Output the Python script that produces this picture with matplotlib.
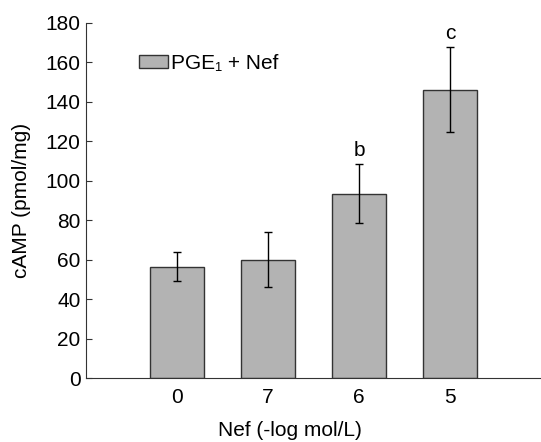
import matplotlib
matplotlib.use("Agg")
import matplotlib.pyplot as plt
import numpy as np

# Data
categories = ["0", "7", "6", "5"]
cAMP = [56.5, 60.0, 93.5, 146.0]
sem = [7.3, 13.8, 14.7, 21.4]
letters = ["", "", "b", "c"]

plt.rcParams["font.family"] = ["Liberation Sans", "DejaVu Sans"]

fig = plt.figure(figsize=(5.41, 4.42), dpi=100)
ax = fig.add_axes([0.159, 0.144, 0.841, 0.805])

x = np.arange(len(categories))
ax.bar(x, cAMP, width=0.6, color="#b3b3b3", edgecolor="#333333", linewidth=1.0,
       label="PGE\u2081 + Nef", zorder=2)
ax.errorbar(x, cAMP, yerr=sem, fmt="none", ecolor="black", elinewidth=1.0,
            capsize=3, capthick=1.0, zorder=3)

# significance letters above error bars
for xi, v, e, t in zip(x, cAMP, sem, letters):
    if t:
        ax.text(xi, v + e + 2.5, t, ha="center", va="bottom", fontsize=15)

ax.set_xlim(-1, 4)
ax.set_ylim(0, 180)
ax.set_yticks(np.arange(0, 181, 20))
ax.set_xticks(x)
ax.set_xticklabels(categories)

ax.spines["top"].set_visible(False)
ax.spines["right"].set_visible(False)
ax.spines["left"].set_color("#333333")
ax.spines["bottom"].set_color("#333333")
ax.tick_params(axis="both", direction="in", labelsize=15, length=4, color="#333333")
ax.tick_params(axis="y", pad=4)
ax.tick_params(axis="x", pad=7)

ax.set_ylabel("cAMP (pmol/mg)", fontsize=15)
ax.yaxis.set_label_coords(-0.12, 0.5)
ax.set_xlabel("Nef (-log mol/L)", fontsize=15)
ax.xaxis.set_label_coords(0.448, -0.12)

ax.legend(loc="upper left", bbox_to_anchor=(0.075, 0.965), frameon=False, fontsize=15,
          handlelength=1.4, handleheight=0.6, handletextpad=0.15)

fig.savefig("out.png", dpi=100)
